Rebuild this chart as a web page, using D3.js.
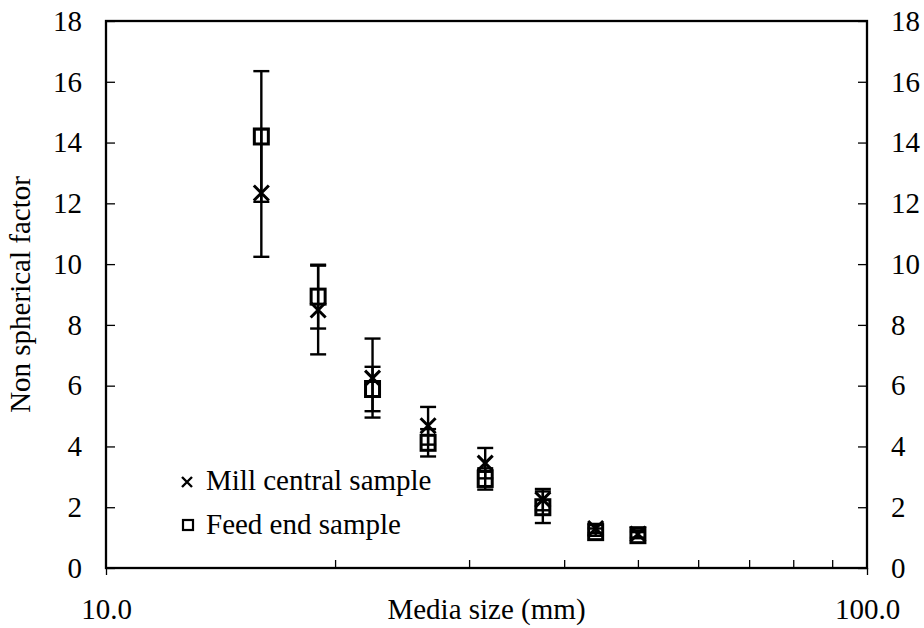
<!DOCTYPE html>
<html>
<head>
<meta charset="utf-8">
<script src="https://cdn.jsdelivr.net/npm/d3@7"></script>
<style>
  body { margin: 0; background: #fff; }
</style>
</head>
<body>
<div id="chart"></div>
<script>
"use strict"

// media sizes (mm) and measured non spherical factor
const sizes = [16, 19, 22.4, 26.5, 31.5, 37.5, 44, 50];
const millCentral = [12.34, 8.49, 6.25, 4.68, 3.45, 2.25, 1.3, 1.12];
const millCentralErr = [2.1, 1.46, 1.3, 0.62, 0.5, 0.35, 0.15, 0.12];
const feedEnd = [14.2, 8.93, 5.89, 4.12, 2.93, 2.0, 1.18, 1.08];
const feedEndErr = [2.15, 1.05, 0.73, 0.45, 0.35, 0.52, 0.12, 0.1];

const yTicks = [0, 2, 4, 6, 8, 10, 12, 14, 16, 18];
const xLabels = [10, 100];
const seriesNames = ["Mill central sample", "Feed end sample"];

const width = 924, height = 628;
const margin = {top: 21, right: 57, bottom: 60, left: 106};
const fontSize = 29;

const svg = d3.select("#chart").append("svg")
    .attr("width", width)
    .attr("height", height);

const x = d3.scaleLog().domain([10, 100]).range([margin.left, width - margin.right]);
const y = d3.scaleLinear().domain([0, 18]).range([height - margin.bottom, margin.top]);

// y ticks, left and right (inward)
const left = d3.axisLeft(y).tickValues(yTicks).tickSize(-9).tickPadding(24).tickFormat(d3.format("d"));
const right = d3.axisRight(y).tickValues(yTicks).tickSize(-9).tickPadding(24).tickFormat(d3.format("d"));

svg.append("g").attr("transform", `translate(${margin.left},0)`).call(left);
svg.append("g").attr("transform", `translate(${width - margin.right},0)`).call(right);

// x minor ticks inside, major outside
const minor = x.ticks().filter(d => xLabels.indexOf(d) < 0);
svg.append("g").attr("transform", `translate(0,${y(0)})`)
    .call(d3.axisBottom(x).tickValues(minor).tickSize(-8).tickFormat(""));
svg.append("g").attr("transform", `translate(0,${y(0)})`)
    .call(d3.axisBottom(x).tickValues(xLabels).tickSize(7).tickPadding(23).tickFormat(d3.format(".1f")));

svg.selectAll(".domain").remove();
svg.selectAll(".tick line").attr("stroke", "#000").attr("stroke-width", 1.3);

// plot frame
svg.append("rect")
    .attr("x", x(10)).attr("y", y(18))
    .attr("width", x(100) - x(10)).attr("height", y(0) - y(18))
    .attr("fill", "none").attr("stroke", "#000").attr("stroke-width", 2.3);

// axis titles
svg.append("text")
    .attr("x", (x(10) + x(100)) / 2).attr("y", 619)
    .attr("text-anchor", "middle")
    .text("Media size (mm)");

svg.append("text")
    .attr("transform", `translate(30,${(y(0) + y(18)) / 2}) rotate(-90)`)
    .attr("text-anchor", "middle")
    .text("Non spherical factor");

// error bars
function errorBars(vals, errs) {
    const g = svg.append("g").attr("stroke", "#000").attr("stroke-width", 2.4).attr("fill", "none");
    sizes.forEach((s, i) => {
        const cx = x(s);
        const lo = y(vals[i] - errs[i]), hi = y(vals[i] + errs[i]);
        g.append("line").attr("x1", cx).attr("x2", cx).attr("y1", lo).attr("y2", hi);
        g.append("line").attr("x1", cx - 8).attr("x2", cx + 8).attr("y1", lo).attr("y2", lo);
        g.append("line").attr("x1", cx - 8).attr("x2", cx + 8).attr("y1", hi).attr("y2", hi);
    });
}
errorBars(millCentral, millCentralErr);
errorBars(feedEnd, feedEndErr);

function crossPath(r) {
    return `M${-r},${-r}L${r},${r}M${-r},${r}L${r},${-r}`;
}

// markers
svg.append("g").selectAll("path").data(sizes).enter().append("path")
    .attr("transform", (d, i) => `translate(${x(d)},${y(millCentral[i])})`)
    .attr("d", crossPath(7.5))
    .attr("stroke", "#000").attr("stroke-width", 3).attr("fill", "none");

svg.append("g").selectAll("rect").data(sizes).enter().append("rect")
    .attr("x", d => x(d) - 7)
    .attr("y", (d, i) => y(feedEnd[i]) - 7.5)
    .attr("width", 14).attr("height", 15)
    .attr("stroke", "#000").attr("stroke-width", 3).attr("fill", "none");

// legend
const legend = svg.append("g");
legend.append("path")
    .attr("transform", "translate(187,482)")
    .attr("d", crossPath(5))
    .attr("stroke", "#000").attr("stroke-width", 2.4).attr("fill", "none");
legend.append("rect")
    .attr("x", 183).attr("y", 520).attr("width", 10).attr("height", 10)
    .attr("stroke", "#000").attr("stroke-width", 2.2).attr("fill", "none");
legend.selectAll("text.lab").data(seriesNames).enter().append("text")
    .attr("class", "lab")
    .attr("x", 206)
    .attr("y", (d, i) => 490 + i * 44)
    .text(d => d);

// one serif face for every label
svg.selectAll("text")
    .style("font-family", "Liberation Serif")
    .style("font-size", fontSize + "px")
    .style("fill", "#000");
</script>
</body>
</html>
